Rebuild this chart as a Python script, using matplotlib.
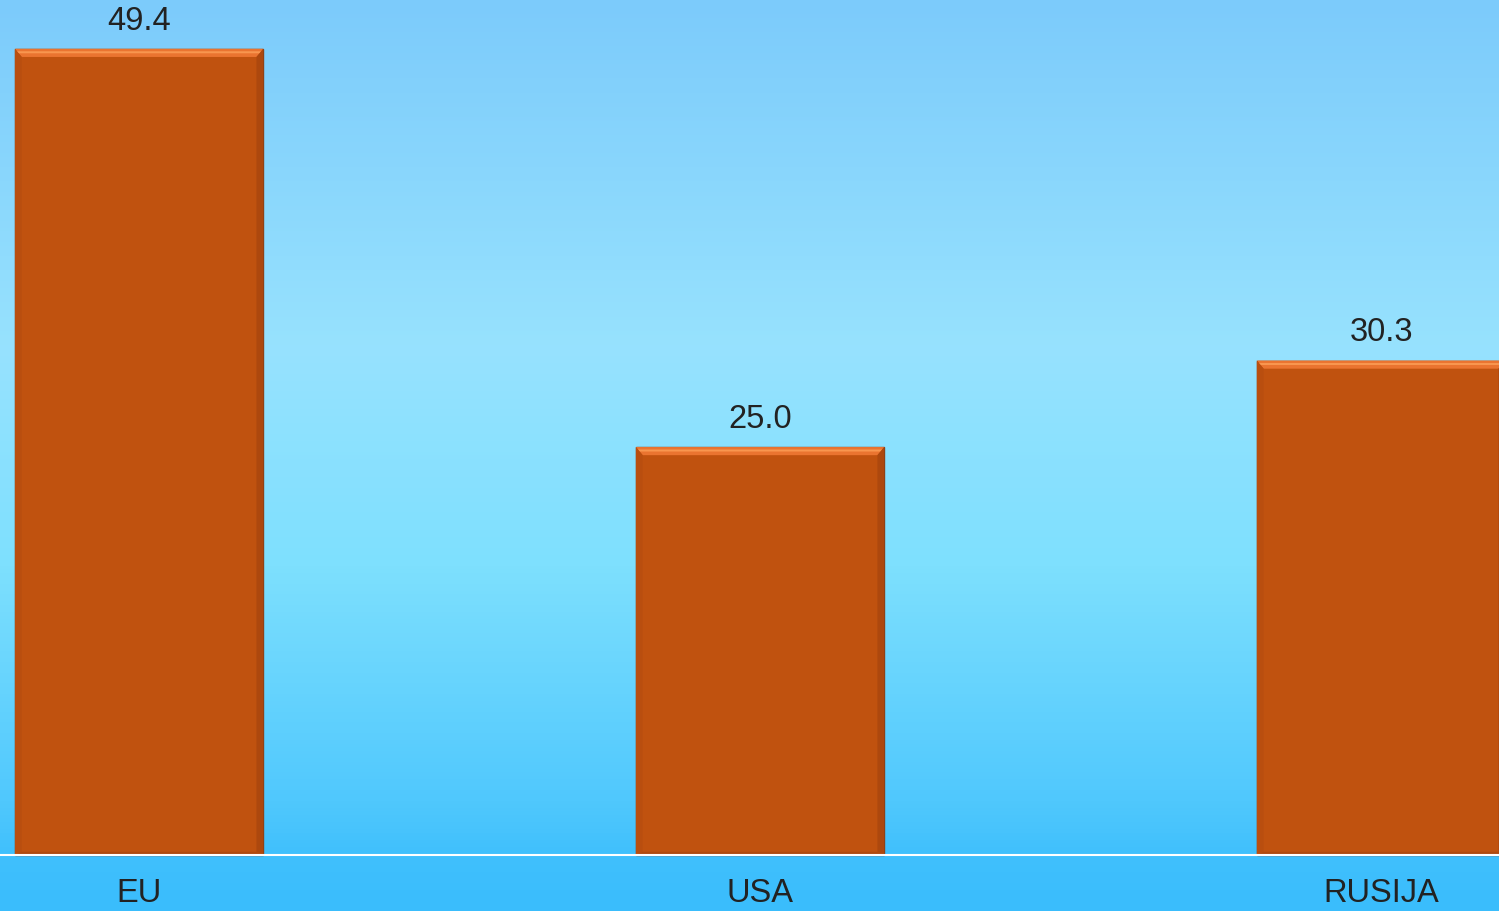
import numpy as np
import matplotlib.pyplot as plt
from matplotlib.patches import Polygon
from matplotlib.colors import LinearSegmentedColormap

plt.rcParams['font.family'] = ['Liberation Sans', 'DejaVu Sans']

categories = ['EU', 'USA', 'RUSIJA']
values = [49.4, 25.0, 30.3]

fig = plt.figure(figsize=(14.99, 9.11), dpi=100)
ax = fig.add_axes([0, 0, 1, 1])

ymin, ymax = -3.43, 52.39
xmin, xmax = -0.224, 2.19
ax.set_xlim(xmin, xmax)
ax.set_ylim(ymin, ymax)
ax.axis('off')

# background gradient (top -> bottom)
bg = LinearSegmentedColormap.from_list('bg', [
    (0.0, '#7ccbfb'), (0.38, '#97e2fe'), (0.62, '#7ee0fe'),
    (0.88, '#50c8fd'), (0.94, '#40c0fc'), (1.0, '#3abdfc')])
grad = np.linspace(0, 1, 256).reshape(-1, 1)
ax.imshow(grad, cmap=bg, aspect='auto', extent=[xmin, xmax, ymin, ymax],
          origin='upper', zorder=0)

width = 0.4
bx = 0.011   # bevel size in x
by = 0.5     # bevel size in y
x = np.arange(len(categories))
bars = ax.bar(x, values, width=width, color='#c0520f', edgecolor='#86401a',
              linewidth=1.0, zorder=2)

for b in bars:
    l, r = b.get_x(), b.get_x() + b.get_width()
    t = b.get_height()
    # top bevel highlight
    ax.add_patch(Polygon([[l, t], [r, t], [r - bx, t - by], [l + bx, t - by]],
                         closed=True, facecolor='#ea7430', edgecolor='none', zorder=3))
    ax.add_patch(Polygon([[l + bx * 0.3, t - by * 0.3], [r - bx * 0.3, t - by * 0.3],
                          [r - bx * 0.55, t - by * 0.55], [l + bx * 0.55, t - by * 0.55]],
                         closed=True, facecolor='#f8964f', edgecolor='none', zorder=3))
    # side bevels
    ax.add_patch(Polygon([[l, t], [l + bx, t - by], [l + bx, by * 0.4], [l, 0]],
                         closed=True, facecolor='#b94e0f', edgecolor='none', zorder=3))
    ax.add_patch(Polygon([[r, t], [r - bx, t - by], [r - bx, by * 0.4], [r, 0]],
                         closed=True, facecolor='#ad480e', edgecolor='none', zorder=3))
    ax.add_patch(Polygon([[l, 0], [r, 0], [r - bx, by * 0.4], [l + bx, by * 0.4]],
                         closed=True, facecolor='#b04a0f', edgecolor='none', zorder=3))
    ax.text(b.get_x() + b.get_width() / 2, t + 0.75, f'{t:.1f}', ha='center',
            va='bottom', fontsize=23.5, color='#222222', zorder=4)

ax.axhline(0, color='white', linewidth=1.5, zorder=4)

for xi, c in zip(x, categories):
    ax.text(xi, -2.35, c, ha='center', va='center', fontsize=23.5,
            color='#222222', zorder=4)

fig.savefig('out.png', dpi=100)
